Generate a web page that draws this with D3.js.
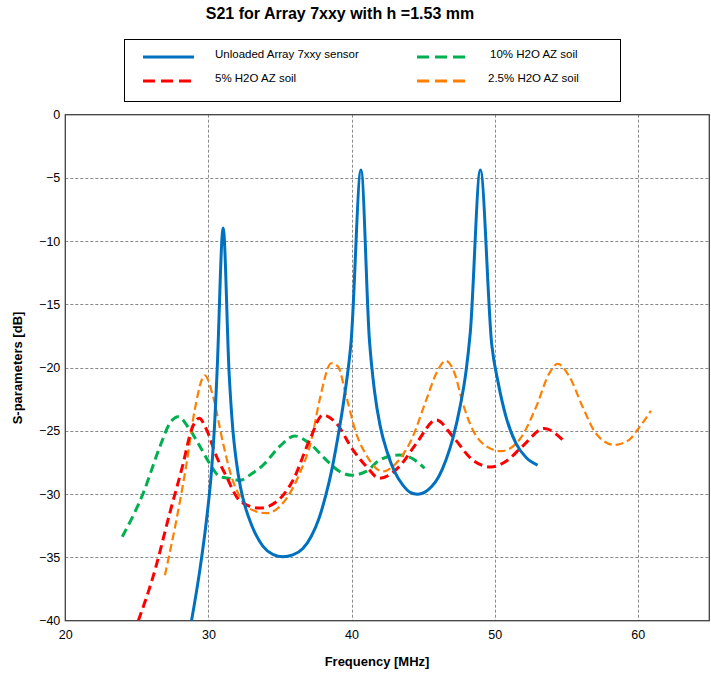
<!DOCTYPE html>
<html>
<head>
<meta charset="utf-8">
<script src="https://cdn.jsdelivr.net/npm/d3@7/dist/d3.min.js"></script>
<style>
  html, body { margin: 0; padding: 0; background: #fff; }
  svg { display: block; font-family: "Liberation Sans", Arial, sans-serif; }
</style>
</head>
<body>
<svg id="chart" width="711" height="677"></svg>
<script>
// S21 transmission curves, frequency [MHz] vs dB
const unloaded = [
  [28.82,-40],[29.4,-36.0],[29.87,-32.0],[30.22,-28.1],[30.45,-24.1],[30.61,-20.2],
  [31.03,-8.95],[31.45,-20.5],[31.7,-24.8],[31.95,-27.4],[32.25,-29.5],[32.6,-31.1],
  [33.0,-32.4],[33.8,-34.1],[34.5,-34.75],[35.2,-34.94],[35.9,-34.8],[36.6,-34.3],
  [37.2,-33.3],[37.7,-32.0],[38.2,-30.1],[38.6,-28.2],[39.0,-25.8],[39.5,-22.3],
  [39.98,-17.8],[40.66,-4.37],[41.25,-17.8],[41.6,-21.8],[42.0,-24.6],[42.5,-26.7],
  [43.0,-28.2],[43.6,-29.3],[44.1,-29.85],[44.6,-30.0],[45.1,-29.85],[45.6,-29.4],
  [46.1,-28.6],[46.6,-27.3],[47.1,-25.5],[47.6,-23.0],[48.0,-20.3],[48.3,-17.2],
  [49.0,-4.37],[49.8,-18.2],[50.25,-21.2],[50.8,-23.9],[51.5,-26.0],[52.2,-27.1],
  [53.0,-27.7]
];
const soil10 = [
  [23.98,-33.36],[25.44,-29.93],[26.61,-26.24],[27.3,-24.4],[27.89,-23.87],[28.7,-24.9],
  [29.4,-26.2],[30.1,-27.6],[30.79,-28.6],[31.5,-28.75],[32.2,-28.9],[33.0,-28.4],
  [33.82,-27.7],[35.0,-26.2],[36.03,-25.4],[37.08,-26.0],[38.24,-27.3],[39.17,-28.2],
  [39.98,-28.5],[41.03,-28.2],[41.96,-27.3],[43.35,-26.9],[44.28,-27.2],[45.1,-27.95]
];
const soil5 = [
  [25.1,-40],[26.14,-36.5],[27.3,-31.5],[28.23,-27.6],[28.82,-24.9],[29.35,-24.0],
  [29.87,-24.9],[30.56,-27.0],[31.26,-28.6],[32.03,-30.3],[32.66,-30.85],[33.59,-31.1],
  [34.75,-30.6],[35.91,-28.9],[37.08,-25.7],[38.0,-23.74],[38.94,-24.4],[40.1,-26.5],
  [41.03,-27.8],[41.96,-28.74],[43.35,-27.8],[44.52,-26.0],[45.92,-24.13],[47.08,-25.45],
  [48.47,-27.3],[49.75,-27.85],[50.8,-27.4],[51.96,-26.2],[53.47,-24.8],[54.75,-25.7]
];
const soil25 = [
  [26.96,-36.4],[27.77,-32.0],[28.47,-27.6],[29.05,-23.3],[29.75,-20.6],[30.33,-22.3],
  [31.03,-26.0],[31.61,-28.6],[32.07,-29.9],[32.66,-31.0],[34.05,-31.5],[35.21,-30.7],
  [36.38,-28.35],[37.2,-25.7],[37.77,-22.55],[38.59,-19.65],[39.05,-19.9],[39.64,-22.3],
  [40.33,-25.2],[41.03,-26.9],[42.19,-28.2],[43.12,-27.55],[44.28,-25.45],[45.22,-22.55],
  [46.03,-20.2],[46.57,-19.45],[47.2,-20.44],[47.77,-22.8],[48.47,-24.9],[49.4,-26.2],
  [50.45,-26.6],[51.73,-25.7],[52.9,-23.1],[53.82,-20.44],[54.4,-19.7],[55.22,-20.7],
  [56.15,-23.1],[57.08,-25.2],[58.36,-26.1],[59.4,-25.7],[59.99,-24.9],[60.92,-23.4]
];

const xTicks = [20, 30, 40, 50, 60];
const yTicks = [0, -5, -10, -15, -20, -25, -30, -35, -40];
const seriesNames = ["Unloaded Array 7xxy sensor", "5% H2O AZ soil", "10% H2O AZ soil", "2.5% H2O AZ soil"];

const series = [
  { name: seriesNames[0], data: unloaded, color: "#0070C0", width: 3,   dash: null },
  { name: seriesNames[1], data: soil5,    color: "#FF0000", width: 3,   dash: "9,5" },
  { name: seriesNames[2], data: soil10,   color: "#00B050", width: 3,   dash: "9,5" },
  { name: seriesNames[3], data: soil25,   color: "#FF7F00", width: 2.2, dash: "8,4" }
];

const svg = d3.select("#chart");
const plot = { left: 65.3, right: 709.3, top: 114.7, bottom: 620.7 };

const x = d3.scaleLinear().domain([20, 65]).range([plot.left, plot.right]);
const y = d3.scaleLinear().domain([-40, 0]).range([plot.bottom, plot.top]);

// title
svg.append("text")
  .attr("x", 340).attr("y", 19)
  .attr("text-anchor", "middle")
  .attr("font-size", 16).attr("font-weight", "bold")
  .text("S21 for Array 7xxy with h =1.53 mm");

// grid
const grid = svg.append("g").attr("stroke", "#8a8a8a").attr("stroke-width", 1).attr("stroke-dasharray", "3,2");
grid.selectAll("line.h").data(yTicks.filter(d => d > -40 && d < 0)).join("line")
  .attr("x1", plot.left).attr("x2", plot.right)
  .attr("y1", d => Math.round(y(d)) + 0.5).attr("y2", d => Math.round(y(d)) + 0.5);
grid.selectAll("line.v").data(xTicks.filter(d => d > 20)).join("line")
  .attr("y1", plot.top).attr("y2", plot.bottom)
  .attr("x1", d => Math.round(x(d)) + 0.5).attr("x2", d => Math.round(x(d)) + 0.5);

// axes (labels only, frame drawn separately)
const yAxis = d3.axisLeft(y).tickValues(yTicks).tickSize(0).tickPadding(5).tickFormat(d3.format("d"));
const xAxis = d3.axisBottom(x).tickValues(xTicks).tickSize(0).tickPadding(9).tickFormat(d3.format("d"));
const gy = svg.append("g").attr("transform", `translate(${plot.left},0)`).call(yAxis);
const gx = svg.append("g").attr("transform", `translate(0,${plot.bottom})`).call(xAxis);
[gx, gy].forEach(g => {
  g.select(".domain").remove();
  g.selectAll("text").attr("font-size", 12.5).attr("fill", "#000")
    .attr("font-family", "'Liberation Sans', Arial, sans-serif");
});

// plot frame
svg.append("rect")
  .attr("x", plot.left).attr("y", plot.top)
  .attr("width", plot.right - plot.left).attr("height", plot.bottom - plot.top)
  .attr("fill", "none").attr("stroke", "#404040").attr("stroke-width", 1.3);

// curves
svg.append("clipPath").attr("id", "clip").append("rect")
  .attr("x", plot.left).attr("y", plot.top)
  .attr("width", plot.right - plot.left).attr("height", plot.bottom - plot.top);

const line = d3.line().x(d => x(d[0])).y(d => y(d[1])).curve(d3.curveMonotoneX);
const drawOrder = [series[2], series[3], series[1], series[0]];
svg.append("g").attr("clip-path", "url(#clip)")
  .selectAll("path").data(drawOrder).join("path")
  .attr("d", d => line(d.data))
  .attr("fill", "none")
  .attr("stroke", d => d.color)
  .attr("stroke-width", d => d.width)
  .attr("stroke-dasharray", d => d.dash)
  .attr("stroke-linejoin", "round");

// axis titles
svg.append("text")
  .attr("x", 377).attr("y", 666)
  .attr("text-anchor", "middle").attr("font-size", 13).attr("font-weight", "bold")
  .text("Frequency [MHz]");
svg.append("text")
  .attr("transform", `translate(22,368) rotate(-90)`)
  .attr("text-anchor", "middle").attr("font-size", 13).attr("font-weight", "bold")
  .text("S-parameters [dB]");

// legend
const legend = svg.append("g");
legend.append("rect")
  .attr("x", 124.5).attr("y", 39.5).attr("width", 496).attr("height", 62)
  .attr("fill", "#fff").attr("stroke", "#000").attr("stroke-width", 1);
const legendPos = [
  { s: series[0], lx: 143, ty: 57, tx: 215 },
  { s: series[2], lx: 417, ty: 57, tx: 490 },
  { s: series[1], lx: 143, ty: 81, tx: 215 },
  { s: series[3], lx: 417, ty: 81, tx: 488 }
];
legendPos.forEach(p => {
  legend.append("line")
    .attr("x1", p.lx).attr("x2", p.lx + 51)
    .attr("y1", p.ty).attr("y2", p.ty)
    .attr("stroke", p.s.color).attr("stroke-width", 3)
    .attr("stroke-dasharray", p.s.dash ? "12,6" : null);
  legend.append("text")
    .attr("x", p.tx).attr("y", p.ty + 1)
    .attr("font-size", 11.5).attr("fill", "#000")
    .text(p.s.name);
});
</script>
</body>
</html>
